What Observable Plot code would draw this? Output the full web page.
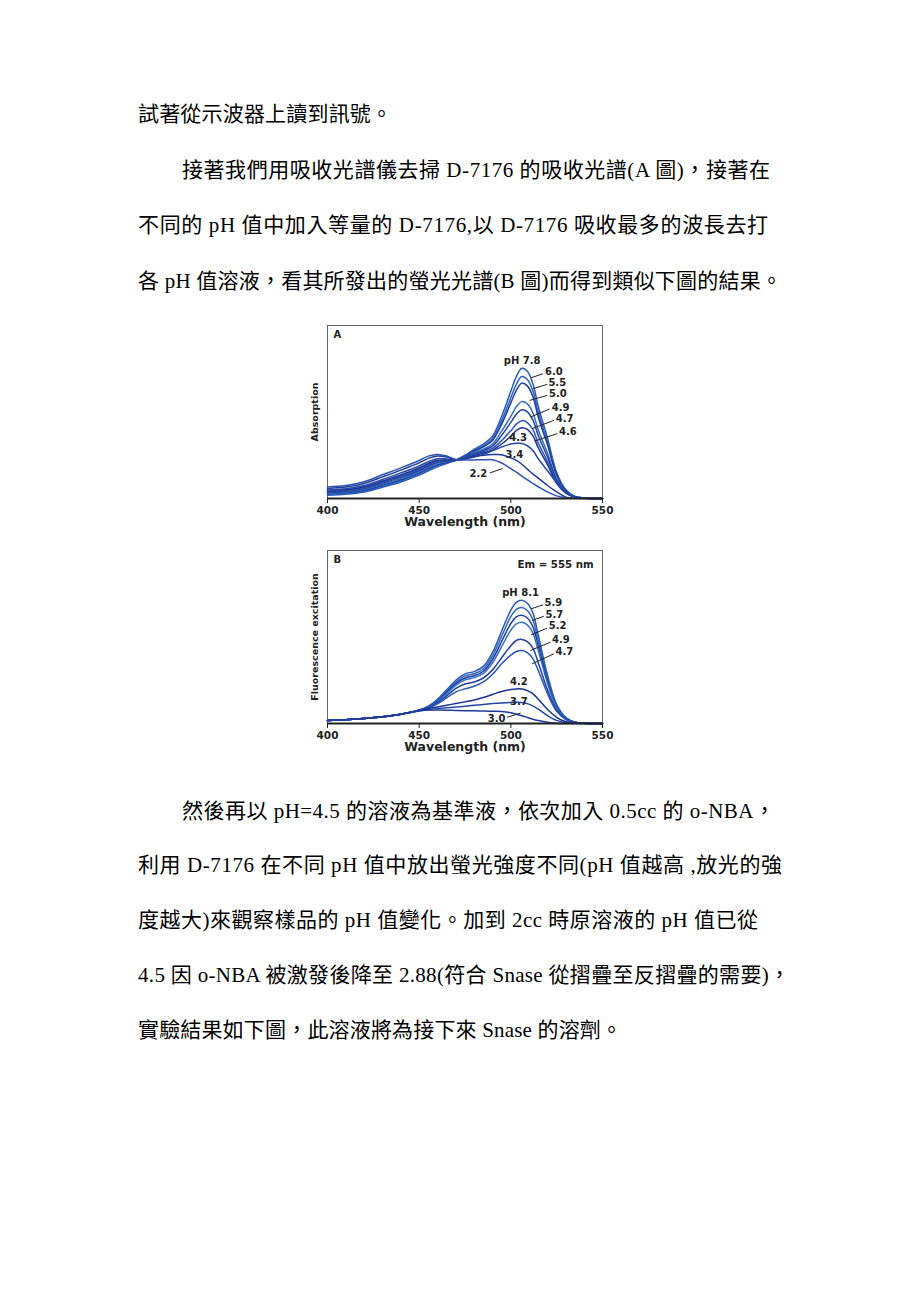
<!DOCTYPE html>
<html>
<head>
<meta charset="utf-8">
<script src="https://cdn.jsdelivr.net/npm/d3@7"></script>
<script src="https://cdn.jsdelivr.net/npm/@observablehq/plot@0.6"></script>
<style>
  html, body { margin: 0; padding: 0; background: #fff; }
  #page { position: relative; width: 920px; height: 1302px; background: #fff; overflow: hidden; }
  .ln { position: absolute; white-space: pre; font-family: "Liberation Serif", "Noto Sans CJK TC", serif; font-size: 21px; line-height: 21px; color: #000; }
  .chart { position: absolute; }
  .chart svg { font-family: "DejaVu Sans", "Liberation Sans", sans-serif; font-weight: bold; overflow: visible; }
</style>
</head>
<body>
<div id="page"></div>
<script>
// ---------- text ----------
const textLines = [
  "試著從示波器上讀到訊號。",
  "接著我們用吸收光譜儀去掃 D-7176 的吸收光譜(A 圖)，接著在",
  "不同的 pH 值中加入等量的 D-7176,以 D-7176 吸收最多的波長去打",
  "各 pH 值溶液，看其所發出的螢光光譜(B 圖)而得到類似下圖的結果。",
  "然後再以 pH=4.5 的溶液為基準液，依次加入 0.5cc 的 o-NBA，",
  "利用 D-7176 在不同 pH 值中放出螢光強度不同(pH 值越高 ,放光的強",
  "度越大)來觀察樣品的 pH 值變化。加到 2cc 時原溶液的 pH 值已從",
  "4.5 因 o-NBA 被激發後降至 2.88(符合 Snase 從摺疊至反摺疊的需要)，",
  "實驗結果如下圖，此溶液將為接下來 Snase 的溶劑。"
];
const lineLeft = [138, 182, 138, 138, 182, 138, 138, 138, 138];
const lineRight = [392, 770, 768, 782, 775, 782, 758, 790, 622];
const lineCenterY = [115, 171, 226, 282, 812, 866, 921, 976, 1031];

// ---------- data ----------
const wavelength = [400,410,420,430,440,450,455,460,465,470,475,480,485,490,495,500,503,506,509,512,515,520,525,530,535,540,550];

const phA = ["7.8","6.0","5.5","5.0","4.9","4.7","4.6","4.3","3.4","2.2"];
const absorptionA = [
  [1.9,2.5,3.8,6.5,9.5,13.5,16,18.3,20.2,22.2,25,28.5,31.5,36,47.5,62,70.5,75.3,73.5,66.5,53,35,15,5,1.2,0.3,0],
  [2.3,3,4.3,7.1,10.1,14.2,16.7,19,20.6,22.1,24.7,27.8,30.5,34.5,45,58.3,66,70.5,68.8,62.3,49.7,32.8,14.1,4.7,1.1,0.3,0],
  [2.7,3.4,4.8,7.7,10.8,14.8,17.4,19.6,21,22.1,24.4,27.2,29.8,33.5,43,55.3,62.5,66.7,65.1,59,47,31,13.4,4.5,1.1,0.3,0],
  [3.1,3.8,5.3,8.3,11.5,15.5,18.1,20.3,21.4,22.1,24,26.3,28.5,31.5,39,47.5,53,56,54.7,49.6,39.6,26.2,11.4,3.9,1,0.3,0],
  [3.5,4.2,5.8,8.9,12.2,16.2,18.8,20.9,21.7,22.1,23.7,25.8,27.8,30.3,36.5,44,48.7,51.3,50.1,45.4,36.3,24,10.6,3.7,0.9,0.3,0],
  [3.9,4.6,6.3,9.5,12.9,16.9,19.5,21.5,22,22.1,23.3,25.2,27,29,33.5,39.2,43,45,43.9,39.9,32,21.3,9.5,3.4,0.9,0.2,0],
  [4.3,5,6.8,10.1,13.6,17.6,20.2,22.1,22.3,22.1,23,24.7,26.3,28,31.5,36,39.3,40.9,40,36.3,29.2,19.5,8.8,3.1,0.8,0.2,0],
  [4.9,5.6,7.5,11,14.8,18.8,21.3,23,22.8,22.2,23,24,25.5,27.5,29.8,31.5,32,31.8,30.5,27.8,23,16,9,3.2,0.8,0.2,0],
  [5.8,6.6,8.7,12.5,16.4,20.6,23.2,24.6,24,22.4,23.3,24.3,25,25.4,25.3,23.5,22,19.8,17,14.2,11.8,7.5,3.8,0.8,0.2,0.1,0],
  [6.7,7.5,9.7,13.7,17.7,22,24.5,25.5,24.6,22.6,22.2,22.3,22.4,22.4,20.5,17.3,15.2,13,10.8,8.7,6.8,3.8,1.5,0.4,0.1,0,0]
];

const phB = ["8.1","5.9","5.7","5.2","4.9","4.7","4.2","3.7","3.0"];
const excitationB = [
  [1.7,2.2,2.9,3.9,5.4,7.8,10,14,19.5,25,28.7,30,33,41,53.5,65.5,70,71.3,69.5,64,51,28,11,3.5,0.8,0.2,0],
  [1.7,2.2,2.9,3.9,5.4,7.8,9.8,13.5,18.8,24,27.5,28.8,31.5,39,50.5,61.8,66,67,65.3,60,48,26.5,10.4,3.3,0.8,0.2,0],
  [1.7,2.2,2.9,3.9,5.4,7.7,9.6,13,18,23,26.3,27.6,30.2,37,47.5,57.8,61.6,62.5,61,56,44.8,24.7,9.8,3.1,0.7,0.2,0],
  [1.7,2.2,2.9,3.9,5.4,7.7,9.4,12.6,17.3,22,25.2,26.5,29,35,44.5,54,57.6,58.5,57,52.4,42,23.2,9.2,2.9,0.7,0.2,0],
  [1.7,2.2,2.9,3.9,5.4,7.6,9.2,12,16,20.3,22.8,24,26.3,31,38,45,48,48.6,47.3,43.5,35,19.5,7.8,2.5,0.6,0.2,0],
  [1.7,2.2,2.9,3.9,5.4,7.5,9,11.3,14.8,18.3,20,21.5,24,28.5,34.5,39.5,41.6,42.2,41,37.5,30.5,17.3,7,2.3,0.6,0.2,0],
  [1.7,2.2,2.9,3.9,5.4,7.5,8.6,9.6,10.6,11.5,12.5,13.6,15,16.8,18.5,19.6,20,19.9,19,17.3,14,8.2,3.6,1,0.3,0.1,0],
  [1.7,2.2,2.9,3.9,5.4,7.2,8,8.6,9.1,9.5,10,10.5,11,11.5,11.9,12.2,12.3,12.2,11.5,10.2,8.3,4.6,1.8,0.5,0.1,0,0],
  [1.7,2.2,2.9,3.9,5.4,7.4,7.8,7.8,7.7,7.5,7.4,7.3,7.2,7.1,6.9,6.2,5.4,4.5,3.5,2.5,1.7,0.7,0.2,0,0,0,0]
];

const xTicks = [400, 450, 500, 550];

// annotation anchors (data coordinates)
const labelsA = [
  {t: "pH 7.8", x: 506.2, y: 79.4, a: "middle"},
  {t: "6.0", x: 518.6, y: 73.1, a: "start"},
  {t: "5.5", x: 520.5, y: 66.9, a: "start"},
  {t: "5.0", x: 520.8, y: 60.6, a: "start"},
  {t: "4.9", x: 522.3, y: 52.5, a: "start"},
  {t: "4.7", x: 524.5, y: 46.0, a: "start"},
  {t: "4.6", x: 526.3, y: 38.5, a: "start"},
  {t: "4.3", x: 504.0, y: 35.2, a: "middle"},
  {t: "3.4", x: 497.1, y: 25.0, a: "start"},
  {t: "2.2", x: 487.1, y: 14.0, a: "end"}
];
const leadersA = [
  {x1: 511.1, y1: 69.8, x2: 517.5, y2: 72.1},
  {x1: 512.2, y1: 63.5, x2: 519.9, y2: 66.0},
  {x1: 510.3, y1: 56.7, x2: 519.9, y2: 59.6},
  {x1: 510.7, y1: 47.1, x2: 521.1, y2: 51.7},
  {x1: 511.6, y1: 40.4, x2: 523.6, y2: 45.2},
  {x1: 513.2, y1: 33.3, x2: 525.4, y2: 37.5},
  {x1: 488.6, y1: 14.8, x2: 495.5, y2: 17.3}
];
const labelsB = [
  {t: "pH 8.1", x: 505.3, y: 75.5, a: "middle"},
  {t: "5.9", x: 518.4, y: 69.8, a: "start"},
  {t: "5.7", x: 518.9, y: 62.8, a: "start"},
  {t: "5.2", x: 520.7, y: 56.2, a: "start"},
  {t: "4.9", x: 522.5, y: 48.6, a: "start"},
  {t: "4.7", x: 524.4, y: 41.6, a: "start"},
  {t: "4.2", x: 504.4, y: 23.9, a: "middle"},
  {t: "3.7", x: 504.4, y: 12.7, a: "middle"},
  {t: "3.0", x: 497.1, y: 2.7, a: "end"}
];
const leadersB = [
  {x1: 511.1, y1: 66.3, x2: 517.6, y2: 68.6},
  {x1: 511.6, y1: 59.5, x2: 518.0, y2: 62.0},
  {x1: 511.1, y1: 51.3, x2: 519.8, y2: 55.1},
  {x1: 510.7, y1: 42.2, x2: 521.6, y2: 47.0},
  {x1: 511.6, y1: 34.5, x2: 523.5, y2: 40.3},
  {x1: 498.0, y1: 3.6, x2: 505.3, y2: 6.0}
];

const lineColors = ["#2a5ab8","#2f64be","#1f3d9e","#3470c2","#22409f","#2a55b2","#1c3393","#2348a6","#1f3a9a","#2b52ad"];

// ---------- page text ----------
const page = document.getElementById("page");
textLines.forEach((s, i) => {
  const d = document.createElement("div");
  d.className = "ln";
  d.textContent = s;
  d.style.left = lineLeft[i] + "px";
  d.style.top = (lineCenterY[i] - 11) + "px";
  page.appendChild(d);
  const natural = d.getBoundingClientRect().width;
  const n = [...s].length;
  const extra = (lineRight[i] - lineLeft[i] - natural) / Math.max(1, n - 1);
  d.style.letterSpacing = extra.toFixed(3) + "px";
});

function tidy(ph, values) {
  const rows = [];
  ph.forEach((p, i) => values[i].forEach((v, j) => rows.push({ph: p, wl: wavelength[j], v, k: i})));
  return rows;
}

function makeChart({rows, labels, leaders, panel, ylabel, extra}) {
  const W = 340, H = 213;
  const lab = {fontSize: 10, fontWeight: "bold", fill: "#222"};
  return Plot.plot({
    width: W, height: H,
    marginTop: 5, marginBottom: 35, marginLeft: 37, marginRight: 28,
    style: {background: "transparent", color: "#111", overflow: "visible"},
    x: {domain: [400, 550]},
    y: {domain: [0, 100]},
    marks: [
      Plot.frame({stroke: "#666", strokeWidth: 1}),
      Plot.line(rows, {x: "wl", y: "v", z: "ph", stroke: d => lineColors[d.k], strokeWidth: 1.5, curve: "catmull-rom"}),
      Plot.ruleY([0], {stroke: "#222", strokeWidth: 1.8}),
      Plot.axisX({ticks: xTicks, tickSize: 5, tickPadding: 3, fontSize: 10.5, fontWeight: "bold", label: null, stroke: "#222", fill: "#222"}),
      Plot.axisY({ticks: [], label: null}),
      Plot.link(leaders, {x1: "x1", y1: "y1", x2: "x2", y2: "y2", stroke: "#222", strokeWidth: 1}),
      Plot.text(labels.filter(d => d.a === "start"), {x: "x", y: "y", text: "t", textAnchor: "start", ...lab}),
      Plot.text(labels.filter(d => d.a === "middle"), {x: "x", y: "y", text: "t", textAnchor: "middle", ...lab}),
      Plot.text(labels.filter(d => d.a === "end"), {x: "x", y: "y", text: "t", textAnchor: "end", ...lab}),
      Plot.text([panel], {frameAnchor: "top-left", dx: 6, dy: 5, fontSize: 10, fontWeight: "bold", fill: "#222"}),
      Plot.text(["Wavelength (nm)"], {frameAnchor: "bottom", dy: 27, fontSize: 12.5, fontWeight: "bold", fill: "#222"}),
      Plot.text([ylabel], {frameAnchor: "left", textAnchor: "middle", dx: -13, rotate: -90, fontSize: 9.5, fontWeight: "bold", fill: "#222"}),
      ...(extra || [])
    ]
  });
}

const chartA = makeChart({rows: tidy(phA, absorptionA), labels: labelsA, leaders: leadersA, panel: "A", ylabel: "Absorption"});
const chartB = makeChart({rows: tidy(phB, excitationB), labels: labelsB, leaders: leadersB, panel: "B", ylabel: "Fluorescence excitation",
  extra: [Plot.text(["Em = 555 nm"], {frameAnchor: "top-right", textAnchor: "end", dx: -9, dy: 10, fontSize: 10.2, fontWeight: "bold", fill: "#222"})]});

const dA = document.createElement("div");
dA.className = "chart"; dA.style.left = "290px"; dA.style.top = "320px";
dA.appendChild(chartA); page.appendChild(dA);
const dB = document.createElement("div");
dB.className = "chart"; dB.style.left = "290px"; dB.style.top = "545px";
dB.appendChild(chartB); page.appendChild(dB);
</script>
</body>
</html>
